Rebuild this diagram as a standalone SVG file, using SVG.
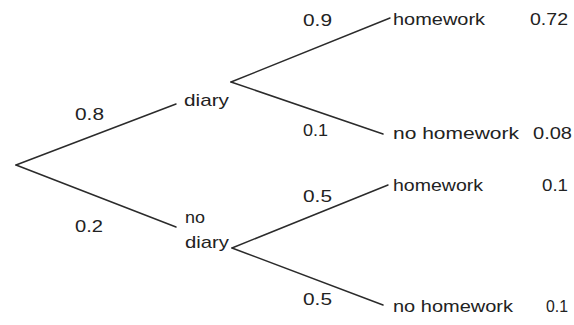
<svg xmlns="http://www.w3.org/2000/svg" width="574" height="325" viewBox="0 0 574 325">
<style>
.e{stroke:#2b2b2b;stroke-width:1.5;fill:none;stroke-linecap:round}
text{font-family:"Liberation Sans",Arial,sans-serif;font-size:17px;fill:#222}
</style>
<rect width="574" height="325" fill="#fff"/>
<g id="connectors">
<line class="e" x1="16" y1="165" x2="176" y2="104"/>
<line class="e" x1="16" y1="165" x2="176" y2="227"/>
<line class="e" x1="231" y1="82" x2="390" y2="18"/>
<line class="e" x1="231" y1="82" x2="383" y2="134"/>
<line class="e" x1="232" y1="248" x2="388" y2="185"/>
<line class="e" x1="232" y1="248" x2="383" y2="305"/>
<text x="75" y="120" textLength="29" lengthAdjust="spacingAndGlyphs">0.8</text>
<text x="75" y="232" textLength="28" lengthAdjust="spacingAndGlyphs">0.2</text>
<text x="303" y="26" textLength="29" lengthAdjust="spacingAndGlyphs">0.9</text>
<text x="303" y="136" textLength="25" lengthAdjust="spacingAndGlyphs">0.1</text>
<text x="303" y="202" textLength="29" lengthAdjust="spacingAndGlyphs">0.5</text>
<text x="303" y="305" textLength="29" lengthAdjust="spacingAndGlyphs">0.5</text>
</g>
<g id="root"></g>
<g id="diary"><text x="184" y="106" textLength="45" lengthAdjust="spacingAndGlyphs">diary</text></g>
<g id="no-diary"><text x="185" y="223" textLength="20" lengthAdjust="spacingAndGlyphs">no</text><text x="185" y="248" textLength="44" lengthAdjust="spacingAndGlyphs">diary</text></g>
<g id="hw1"><text x="393" y="25" textLength="92" lengthAdjust="spacingAndGlyphs">homework</text><text x="530" y="25" textLength="38" lengthAdjust="spacingAndGlyphs">0.72</text></g>
<g id="nhw1"><text x="393" y="139" textLength="126" lengthAdjust="spacingAndGlyphs">no homework</text><text x="533" y="139" textLength="39" lengthAdjust="spacingAndGlyphs">0.08</text></g>
<g id="hw2"><text x="393" y="191" textLength="90" lengthAdjust="spacingAndGlyphs">homework</text><text x="542" y="191" textLength="26" lengthAdjust="spacingAndGlyphs">0.1</text></g>
<g id="nhw2"><text x="393" y="312" textLength="120" lengthAdjust="spacingAndGlyphs">no homework</text><text x="546" y="312" textLength="22" lengthAdjust="spacingAndGlyphs">0.1</text></g>
</svg>
